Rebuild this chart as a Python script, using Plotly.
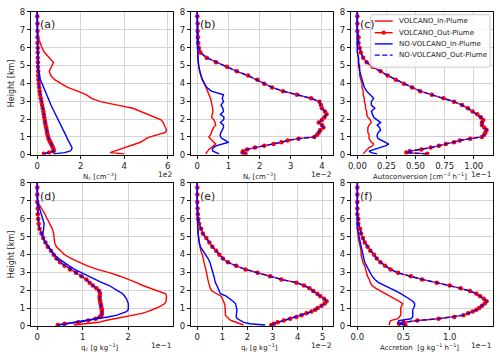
import plotly.graph_objects as go

# ---------------- data ----------------
height_km = [0.05, 0.12, 0.2, 0.3, 0.4, 0.5, 0.6, 0.7, 0.8, 0.9,
             1.0, 1.12, 1.25, 1.38, 1.52, 1.66, 1.8, 1.95, 2.1, 2.26,
             2.42, 2.6, 2.78, 2.97, 3.16, 3.36, 3.56, 3.77, 3.98, 4.2,
             4.43, 4.67, 4.92, 5.17, 5.43, 5.72, 5.98, 6.25, 6.57, 6.93,
             7.35, 7.75, 8.15]

# (a) Nc  [x1e2 cm-3]
nc_volc_in = [4.0, 3.35, 3.55, 3.8, 4.05, 4.35, 4.6, 4.75, 4.9, 5.0,
              5.2, 5.5, 5.9, 5.95, 5.9, 5.85, 5.8, 5.7, 5.4, 5.1,
              4.85, 4.4, 3.7, 2.9, 2.5, 2.25, 1.85, 1.4, 1.1, 0.8,
              0.62, 0.55, 0.65, 0.75, 0.55, 0.33, 0.22, 0.13, 0.05, 0.01,
              0.0, 0.0, 0.0]
nc_novolc_in = [0.75, 1.25, 1.5, 1.58, 1.6, 1.55, 1.5, 1.46, 1.42, 1.38,
                1.35, 1.3, 1.25, 1.2, 1.15, 1.08, 1.0, 0.95, 0.9, 0.82,
                0.76, 0.7, 0.63, 0.57, 0.5, 0.44, 0.37, 0.3, 0.22, 0.14,
                0.1, 0.06, 0.04, 0.03, 0.02, 0.02, 0.01, 0.01, 0.01, 0.0,
                0.0, 0.0, 0.0]
nc_volc_out = [0.3, 0.55, 0.75, 0.75, 0.72, 0.68, 0.64, 0.6, 0.56, 0.52,
               0.5, 0.47, 0.45, 0.43, 0.41, 0.38, 0.36, 0.34, 0.32, 0.3,
               0.28, 0.25, 0.22, 0.19, 0.16, 0.13, 0.11, 0.09, 0.07, 0.05,
               0.04, 0.04, 0.03, 0.03, 0.02, 0.02, 0.02, 0.01, 0.01, 0.01,
               0.01, 0.0, 0.0]
nc_novolc_out = nc_volc_out

# (b) Nr  [x1e-2 cm-3]
nr_volc_in = [0.27, 0.3, 0.33, 0.37, 0.45, 0.53, 0.59, 0.53, 0.47, 0.4,
              0.37, 0.43, 0.45, 0.48, 0.52, 0.59, 0.57, 0.53, 0.46, 0.49,
              0.5, 0.49, 0.48, 0.45, 0.42, 0.38, 0.33, 0.28, 0.22, 0.16,
              0.11, 0.07, 0.04, 0.03, 0.02, 0.01, 0.01, 0.0, 0.0, 0.0,
              0.0, 0.0, 0.0]
nr_novolc_in = [0.7, 0.6, 0.5, 0.48, 0.52, 0.6, 0.8, 1.0, 0.9, 0.8,
                0.75, 0.73, 0.76, 0.8, 0.84, 0.84, 0.74, 0.84, 0.86, 0.74,
                0.84, 0.82, 0.76, 0.84, 0.8, 0.84, 0.45, 0.3, 0.22, 0.16,
                0.12, 0.08, 0.05, 0.03, 0.02, 0.01, 0.0, 0.0, 0.0, 0.0,
                0.0, 0.0, 0.0]
nr_volc_out = [1.55, 1.45, 1.47, 1.6, 1.85, 2.15, 2.45, 2.7, 2.9, 3.25,
               3.76, 3.85, 3.9, 3.95, 4.05, 4.0, 3.9, 4.0, 4.08, 4.15,
               4.1, 4.0, 3.97, 3.92, 3.65, 3.2, 2.75, 2.4, 2.15, 1.93,
               1.63, 1.27, 0.95, 0.6, 0.3, 0.1, 0.05, 0.03, 0.02, 0.01,
               0.01, 0.0, 0.0]
nr_novolc_out = nr_volc_out

# (c) Autoconversion  [x1e-1 cm-3 h-1]
au_volc_in = [0.05, 0.06, 0.07, 0.08, 0.1, 0.13, 0.14, 0.12, 0.11, 0.1,
              0.1, 0.1, 0.09, 0.09, 0.09, 0.1, 0.12, 0.11, 0.09, 0.08,
              0.08, 0.07, 0.07, 0.06, 0.06, 0.05, 0.05, 0.04, 0.04, 0.03,
              0.02, 0.02, 0.01, 0.01, 0.01, 0.0, 0.0, 0.0, 0.0, 0.0,
              0.0, 0.0, 0.0]
au_novolc_in = [0.17, 0.12, 0.1, 0.15, 0.2, 0.24, 0.27, 0.24, 0.2, 0.18,
                0.17, 0.17, 0.18, 0.2, 0.19, 0.17, 0.2, 0.17, 0.14, 0.13,
                0.12, 0.15, 0.12, 0.12, 0.14, 0.11, 0.08, 0.06, 0.05, 0.04,
                0.03, 0.02, 0.02, 0.01, 0.01, 0.0, 0.0, 0.0, 0.0, 0.0,
                0.0, 0.0, 0.0]
au_volc_out = [0.6, 0.42, 0.45, 0.55, 0.63, 0.7, 0.76, 0.83, 0.88, 0.97,
               1.07, 1.09, 1.1, 1.11, 1.09, 1.07, 1.07, 1.08, 1.06, 1.03,
               0.99, 0.95, 0.9, 0.83, 0.74, 0.64, 0.54, 0.47, 0.4, 0.33,
               0.26, 0.2, 0.13, 0.08, 0.05, 0.03, 0.02, 0.01, 0.01, 0.0,
               0.0, 0.0, 0.0]
au_novolc_out = au_volc_out

# (d) qc  [x1e-1 g kg-1]
qc_volc_in = [0.8, 1.1, 1.35, 1.5, 1.7, 1.95, 2.15, 2.3, 2.42, 2.54,
              2.62, 2.72, 2.8, 2.83, 2.84, 2.84, 2.82, 2.65, 2.48, 2.32,
              2.18, 2.02, 1.82, 1.6, 1.32, 1.1, 0.92, 0.75, 0.6, 0.5,
              0.42, 0.38, 0.37, 0.36, 0.33, 0.28, 0.22, 0.17, 0.1, 0.01,
              0.0, 0.0, 0.0]
qc_novolc_in = [0.55, 0.65, 0.78, 1.05, 1.35, 1.55, 1.75, 1.88, 1.96, 2.0,
                2.0, 2.0, 2.0, 1.98, 1.96, 1.92, 1.88, 1.78, 1.68, 1.58,
                1.42, 1.27, 1.1, 0.95, 0.82, 0.7, 0.58, 0.47, 0.37, 0.3,
                0.23, 0.17, 0.13, 0.12, 0.14, 0.15, 0.12, 0.08, 0.05, 0.01,
                0.0, 0.0, 0.0]
qc_volc_out = [0.45, 0.6, 0.9, 1.12, 1.28, 1.37, 1.41, 1.42, 1.42, 1.42,
               1.41, 1.4, 1.39, 1.38, 1.37, 1.37, 1.38, 1.36, 1.3, 1.22,
               1.15, 1.08, 0.97, 0.85, 0.72, 0.6, 0.5, 0.42, 0.36, 0.3,
               0.23, 0.18, 0.13, 0.09, 0.05, 0.03, 0.02, 0.01, 0.01, 0.0,
               0.0, 0.0, 0.0]
qc_novolc_out = qc_volc_out

# (e) qr  [x1e-2 g kg-1]
qr_volc_in = [1.84, 1.7, 1.5, 1.35, 1.25, 1.17, 1.12, 1.12, 1.12, 1.12,
              1.12, 1.1, 1.08, 1.05, 1.0, 0.95, 0.75, 0.58, 0.52, 0.47,
              0.45, 0.42, 0.4, 0.37, 0.34, 0.3, 0.27, 0.23, 0.2, 0.14,
              0.1, 0.07, 0.05, 0.03, 0.02, 0.01, 0.0, 0.0, 0.0, 0.0,
              0.0, 0.0, 0.0]
qr_novolc_in = [2.7, 2.1, 1.85, 1.7, 1.6, 1.55, 1.55, 1.56, 1.57, 1.58,
                1.57, 1.55, 1.52, 1.42, 1.3, 1.15, 0.92, 0.88, 0.85, 0.78,
                0.72, 0.7, 0.66, 0.62, 0.59, 0.55, 0.5, 0.43, 0.33, 0.2,
                0.12, 0.08, 0.05, 0.03, 0.02, 0.01, 0.0, 0.0, 0.0, 0.0,
                0.0, 0.0, 0.0]
qr_volc_out = [2.95, 3.05, 3.2, 3.45, 3.7, 3.95, 4.15, 4.35, 4.55, 4.7,
               4.8, 4.95, 5.08, 5.15, 5.05, 4.9, 4.78, 4.62, 4.47, 4.25,
               3.95, 3.35, 2.9, 2.4, 1.92, 1.55, 1.22, 1.02, 0.88, 0.75,
               0.6, 0.48, 0.36, 0.22, 0.15, 0.07, 0.04, 0.02, 0.01, 0.0,
               0.0, 0.0, 0.0]
qr_novolc_out = qr_volc_out

# (f) Accretion  [x1e-1 g kg-1 h-1]
ac_volc_in = [0.34, 0.35, 0.35, 0.36, 0.44, 0.46, 0.47, 0.47, 0.47, 0.47,
              0.47, 0.48, 0.49, 0.45, 0.4, 0.36, 0.3, 0.25, 0.2, 0.16,
              0.14, 0.13, 0.11, 0.1, 0.09, 0.08, 0.06, 0.05, 0.04, 0.04,
              0.03, 0.02, 0.01, 0.01, 0.0, 0.0, 0.0, 0.0, 0.0, 0.0,
              0.0, 0.0, 0.0]
ac_novolc_in = [0.47, 0.45, 0.44, 0.45, 0.58, 0.6, 0.6, 0.6, 0.6, 0.6,
                0.61, 0.62, 0.62, 0.6, 0.56, 0.52, 0.47, 0.42, 0.36, 0.28,
                0.23, 0.19, 0.16, 0.14, 0.12, 0.1, 0.08, 0.07, 0.06, 0.05,
                0.04, 0.03, 0.02, 0.01, 0.0, 0.0, 0.0, 0.0, 0.0, 0.0,
                0.0, 0.0, 0.0]
ac_volc_out = [0.52, 0.45, 0.5, 0.65, 0.88, 1.05, 1.15, 1.2, 1.25, 1.29,
               1.32, 1.35, 1.38, 1.4, 1.37, 1.33, 1.29, 1.22, 1.12, 1.0,
               0.86, 0.7, 0.58, 0.44, 0.36, 0.3, 0.25, 0.21, 0.18, 0.14,
               0.11, 0.08, 0.06, 0.04, 0.03, 0.01, 0.01, 0.0, 0.0, 0.0,
               0.0, 0.0, 0.0]
ac_novolc_out = ac_volc_out

panel_labels = ["(a)", "(b)", "(c)", "(d)", "(e)", "(f)"]
x_titles = ["N<sub>c</sub> [cm<sup>−3</sup>]",
            "N<sub>r</sub> [cm<sup>−3</sup>]",
            "Autoconversion [cm<sup>−3</sup> h<sup>−1</sup>]",
            "q<sub>c</sub> [g kg<sup>−1</sup>]",
            "q<sub>r</sub> [g kg<sup>−1</sup>]",
            "Accretion \u00a0[g kg<sup>−1</sup> h<sup>−1</sup>]"]
offset_texts = ["1e2", "1e−2", "1e−1", "1e−1", "1e−2", "1e−1"]
x_tickvals = [[0, 2, 4, 6], [0, 1, 2, 3, 4], [0, 0.25, 0.5, 0.75, 1.0],
              [0, 1, 2], [0, 1, 2, 3, 4, 5], [0, 0.5, 1.0]]
x_ticktext = [["0", "2", "4", "6"], ["0", "1", "2", "3", "4"],
              ["0.00", "0.25", "0.50", "0.75", "1.00"],
              ["0", "1", "2"], ["0", "1", "2", "3", "4", "5"],
              ["0.0", "0.5", "1.0"]]
y_tickvals = [0, 1, 2, 3, 4, 5, 6, 7, 8]
series_names = ["VOLCANO_In-Plume", "VOLCANO_Out-Plume",
                "NO-VOLCANO_In-Plume", "NO-VOLCANO_Out-Plume"]

panel_data = [
    (nc_volc_in, nc_volc_out, nc_novolc_in, nc_novolc_out),
    (nr_volc_in, nr_volc_out, nr_novolc_in, nr_novolc_out),
    (au_volc_in, au_volc_out, au_novolc_in, au_novolc_out),
    (qc_volc_in, qc_volc_out, qc_novolc_in, qc_novolc_out),
    (qr_volc_in, qr_volc_out, qr_novolc_in, qr_novolc_out),
    (ac_volc_in, ac_volc_out, ac_novolc_in, ac_novolc_out),
]

# ---------------- layout geometry (pixels) ----------------
W, H = 500, 362
COL_LEFT = [28, 189, 350]
COL_W = 143
ROW_TOP = [7, 183]
ROW_H = 147
FONT = "DejaVu Sans"
TXT = "#1a1a1a"
RED = "#ff0000"
BLUE = "#0000ff"
LW = 1.4


def px_x(p):
    return p / W


def px_y(p):
    return 1 - p / H


fig = go.Figure()
layout = dict(width=W, height=H, margin=dict(l=0, r=0, t=0, b=0),
              paper_bgcolor="white", plot_bgcolor="white", showlegend=False,
              font=dict(family=FONT, size=8, color=TXT))

axis_common = dict(showline=True, linecolor="#111111", linewidth=1, mirror=True,
                   ticks="outside", ticklen=3, tickwidth=1, tickcolor="#111111",
                   showgrid=True, gridcolor="#d4d4d4", gridwidth=1, zeroline=False,
                   tickfont=dict(family=FONT, size=8.5, color=TXT))

annotations = []
for i, (vin, vout, nin, nout) in enumerate(panel_data):
    sfx = "" if i == 0 else str(i + 1)
    row, col = divmod(i, 3)
    x0 = COL_LEFT[col]
    y0 = ROW_TOP[row]
    xa, ya = "x" + sfx, "y" + sfx

    fig.add_trace(go.Scatter(x=vin, y=height_km, mode="lines", name=series_names[0],
                             line=dict(color=RED, width=LW), xaxis=xa, yaxis=ya))
    fig.add_trace(go.Scatter(x=vout, y=height_km, mode="lines+markers", name=series_names[1],
                             line=dict(color=RED, width=LW),
                             marker=dict(color=RED, size=4.5, line=dict(width=0)),
                             xaxis=xa, yaxis=ya))
    fig.add_trace(go.Scatter(x=nin, y=height_km, mode="lines", name=series_names[2],
                             line=dict(color=BLUE, width=LW), xaxis=xa, yaxis=ya))
    fig.add_trace(go.Scatter(x=nout, y=height_km, mode="lines", name=series_names[3],
                             line=dict(color=BLUE, width=LW, dash="5px,2.5px"),
                             xaxis=xa, yaxis=ya))

    allv = list(vin) + list(vout) + list(nin) + list(nout)
    lo, hi = min(allv), max(allv)
    d = hi - lo
    xr = [lo - 0.05 * d, hi + 0.05 * d]

    layout["xaxis" + sfx] = dict(domain=[px_x(x0), px_x(x0 + COL_W)], anchor=ya,
                                 range=xr, tickvals=x_tickvals[i], ticktext=x_ticktext[i],
                                 **axis_common)
    layout["yaxis" + sfx] = dict(domain=[px_y(y0 + ROW_H), px_y(y0)], anchor=xa,
                                 range=[0, 8], tickvals=y_tickvals, **axis_common)

    annotations.append(dict(text=panel_labels[i], x=px_x(x0 + 0.05 * COL_W),
                            y=px_y(y0 + 13.5), xref="paper", yref="paper",
                            xanchor="left", yanchor="middle", showarrow=False,
                            font=dict(size=11, color=TXT)))
    annotations.append(dict(text=x_titles[i], x=px_x(x0 + COL_W / 2 - 2),
                            y=px_y(y0 + ROW_H + 22), xref="paper", yref="paper",
                            xanchor="center", yanchor="middle", showarrow=False,
                            font=dict(size=7, color=TXT)))
    annotations.append(dict(text=offset_texts[i], x=px_x(x0 + COL_W + 1),
                            y=px_y(y0 + ROW_H + 20.5), xref="paper", yref="paper",
                            xanchor="right", yanchor="middle", showarrow=False,
                            font=dict(size=7.5, color=TXT)))
    if col == 0:
        annotations.append(dict(text="Height [km]", x=px_x(8), y=px_y(y0 + ROW_H / 2),
                                xref="paper", yref="paper", xanchor="center",
                                yanchor="middle", textangle=-90, showarrow=False,
                                font=dict(size=8, color=TXT)))

# ---------------- legend (in panel c) ----------------
LB = dict(x0=370, x1=490, y0=10, y1=64, r=2)
shapes = []
r = LB["r"]
path = (f"M {px_x(LB['x0'] + r)},{px_y(LB['y0'])} "
        f"L {px_x(LB['x1'] - r)},{px_y(LB['y0'])} "
        f"Q {px_x(LB['x1'])},{px_y(LB['y0'])} {px_x(LB['x1'])},{px_y(LB['y0'] + r)} "
        f"L {px_x(LB['x1'])},{px_y(LB['y1'] - r)} "
        f"Q {px_x(LB['x1'])},{px_y(LB['y1'])} {px_x(LB['x1'] - r)},{px_y(LB['y1'])} "
        f"L {px_x(LB['x0'] + r)},{px_y(LB['y1'])} "
        f"Q {px_x(LB['x0'])},{px_y(LB['y1'])} {px_x(LB['x0'])},{px_y(LB['y1'] - r)} "
        f"L {px_x(LB['x0'])},{px_y(LB['y0'] + r)} "
        f"Q {px_x(LB['x0'])},{px_y(LB['y0'])} {px_x(LB['x0'] + r)},{px_y(LB['y0'])} Z")
shapes.append(dict(type="path", path=path, xref="paper", yref="paper",
                   fillcolor="rgba(255,255,255,0.8)", line=dict(color="#cccccc", width=1),
                   layer="above"))
row_y = [16.5, 28.5, 40, 51.5]
styles = [(RED, "solid", False), (RED, "solid", True), (BLUE, "solid", False), (BLUE, "dash", False)]
for k, (name, (colr, dash, mk)) in enumerate(zip(series_names, styles)):
    yy = px_y(row_y[k])
    shapes.append(dict(type="line", xref="paper", yref="paper",
                       x0=px_x(374), x1=px_x(392), y0=yy, y1=yy,
                       line=dict(color=colr, width=LW, dash=dash if dash == "solid" else "5px,2.5px"),
                       layer="above"))
    if mk:
        shapes.append(dict(type="circle", xref="paper", yref="paper",
                           x0=px_x(383 - 2.2), x1=px_x(383 + 2.2),
                           y0=px_y(row_y[k] + 2.2), y1=px_y(row_y[k] - 2.2),
                           fillcolor=colr, line=dict(width=0), layer="above"))
    annotations.append(dict(text=name, x=px_x(396), y=yy, xref="paper", yref="paper",
                            xanchor="left", yanchor="middle", showarrow=False,
                            font=dict(size=7, color=TXT)))

layout["annotations"] = annotations
layout["shapes"] = shapes
fig.update_layout(**layout)
fig.write_html("out.html")
